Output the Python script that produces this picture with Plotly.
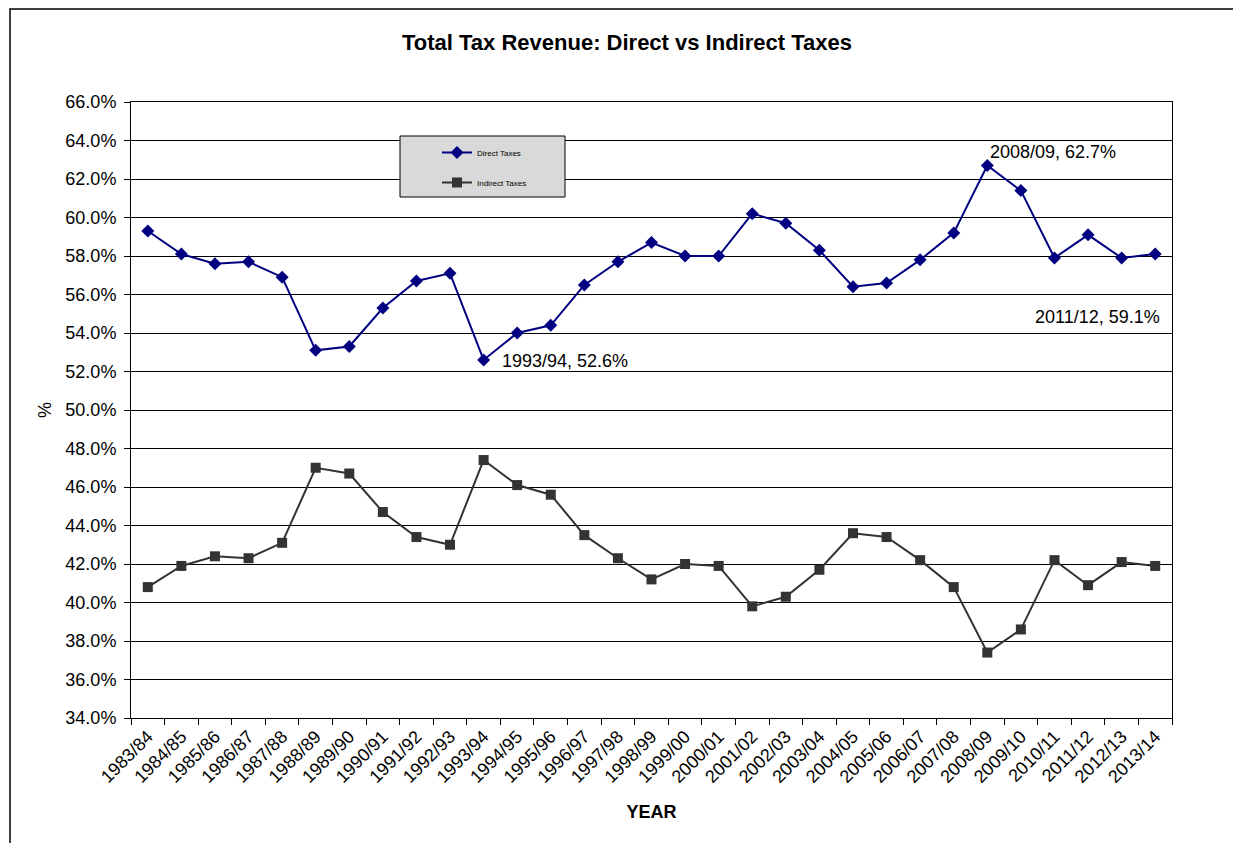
import plotly.graph_objects as go

# Fiscal years
years = [
    "1983/84", "1984/85", "1985/86", "1986/87", "1987/88", "1988/89", "1989/90",
    "1990/91", "1991/92", "1992/93", "1993/94", "1994/95", "1995/96", "1996/97",
    "1997/98", "1998/99", "1999/00", "2000/01", "2001/02", "2002/03", "2003/04",
    "2004/05", "2005/06", "2006/07", "2007/08", "2008/09", "2009/10", "2010/11",
    "2011/12", "2012/13", "2013/14",
]

# Share of total tax revenue (%)
direct_taxes = [
    59.3, 58.1, 57.6, 57.7, 56.9, 53.1, 53.3, 55.3, 56.7, 57.1, 52.6, 54.0, 54.4,
    56.5, 57.7, 58.7, 58.0, 58.0, 60.2, 59.7, 58.3, 56.4, 56.6, 57.8, 59.2, 62.7,
    61.4, 57.9, 59.1, 57.9, 58.1,
]
indirect_taxes = [
    40.8, 41.9, 42.4, 42.3, 43.1, 47.0, 46.7, 44.7, 43.4, 43.0, 47.4, 46.1, 45.6,
    43.5, 42.3, 41.2, 42.0, 41.9, 39.8, 40.3, 41.7, 43.6, 43.4, 42.2, 40.8, 37.4,
    38.6, 42.2, 40.9, 42.1, 41.9,
]

# Years whose direct-tax share gets a value label, with label offsets in px
labelled = [("1993/94", 16, -1), ("2008/09", 1, 14), ("2011/12", -55, -82)]

FONT = "Liberation Sans, Arial, sans-serif"

# Plot area in pixels: left 131, right 1172, top 102, bottom 718
PL, PR, PT, PB = 131, 1172, 102, 718


def px_x(x):
    return (x - PL) / (PR - PL)


def px_y(y):
    return (PB - y) / (PB - PT)


fig = go.Figure()
fig.add_trace(go.Scatter(
    x=years, y=direct_taxes, name="Direct Taxes", mode="lines+markers",
    line=dict(color="#000080", width=2),
    marker=dict(symbol="diamond", size=10, color="#000080"),
    legendgroup="d",
))
fig.add_trace(go.Scatter(
    x=years, y=indirect_taxes, name="Indirect Taxes", mode="lines+markers",
    line=dict(color="#333333", width=2),
    marker=dict(symbol="square", size=10, color="#333333"),
    legendgroup="i",
))

for yr, dx, dy in labelled:
    i = years.index(yr)
    fig.add_annotation(
        x=yr, y=direct_taxes[i], text=f"{yr}, {direct_taxes[i]:.1f}%",
        showarrow=False, xanchor="left", yanchor="middle",
        xshift=dx, yshift=dy, font=dict(family=FONT, size=18, color="#000"),
    )

# Outer chart frame
fig.add_shape(
    type="rect", xref="paper", yref="paper",
    x0=px_x(10), x1=px_x(1245), y0=px_y(860), y1=px_y(9),
    line=dict(color="#000", width=1.5), fillcolor="rgba(0,0,0,0)", layer="below",
)
# Grey legend panel
fig.add_shape(
    type="rect", xref="paper", yref="paper",
    x0=px_x(400), x1=px_x(565), y0=px_y(197), y1=px_y(136),
    line=dict(color="#000", width=1), fillcolor="#D9D9D9", layer="above",
)

fig.update_layout(
    width=1233, height=843,
    margin=dict(l=PL, r=1233 - PR, t=PT, b=843 - PB),
    paper_bgcolor="white", plot_bgcolor="white",
    font=dict(family=FONT, size=18, color="#000"),
    title=dict(
        text="<b>Total Tax Revenue: Direct vs Indirect Taxes</b>",
        x=0.5085, xref="container", xanchor="center",
        y=0.950, yref="container", yanchor="middle",
        font=dict(family=FONT, size=22, color="#000"),
    ),
    legend=dict(
        x=px_x(437), y=px_y(138), xanchor="left", yanchor="top",
        bgcolor="rgba(0,0,0,0)", borderwidth=0,
        font=dict(family=FONT, size=8, color="#000"),
        traceorder="grouped", tracegroupgap=11,
    ),
    showlegend=True,
)

fig.update_xaxes(
    type="category", range=[-0.5, len(years) - 0.5],
    tickangle=-45, tickson="boundaries",
    ticks="outside", ticklen=6, tickcolor="#000",
    showline=True, linecolor="#000", linewidth=1, mirror=True,
    showgrid=False,
    tickfont=dict(family=FONT, size=18, color="#000"),
    title=dict(text="<b>YEAR</b>", font=dict(family=FONT, size=18), standoff=19),
)
fig.update_yaxes(
    range=[34, 66], dtick=2, tick0=34, tickformat=".1f", ticksuffix="%",
    ticks="outside", ticklen=6, tickcolor="#000", ticklabelstandoff=4,
    showline=True, linecolor="#000", linewidth=1, mirror=True,
    showgrid=True, gridcolor="#000", gridwidth=1,
    tickfont=dict(family=FONT, size=18, color="#000"),
    title=dict(text="%", font=dict(family=FONT, size=18), standoff=9),
    zeroline=False,
)

fig.write_html("out.html")
